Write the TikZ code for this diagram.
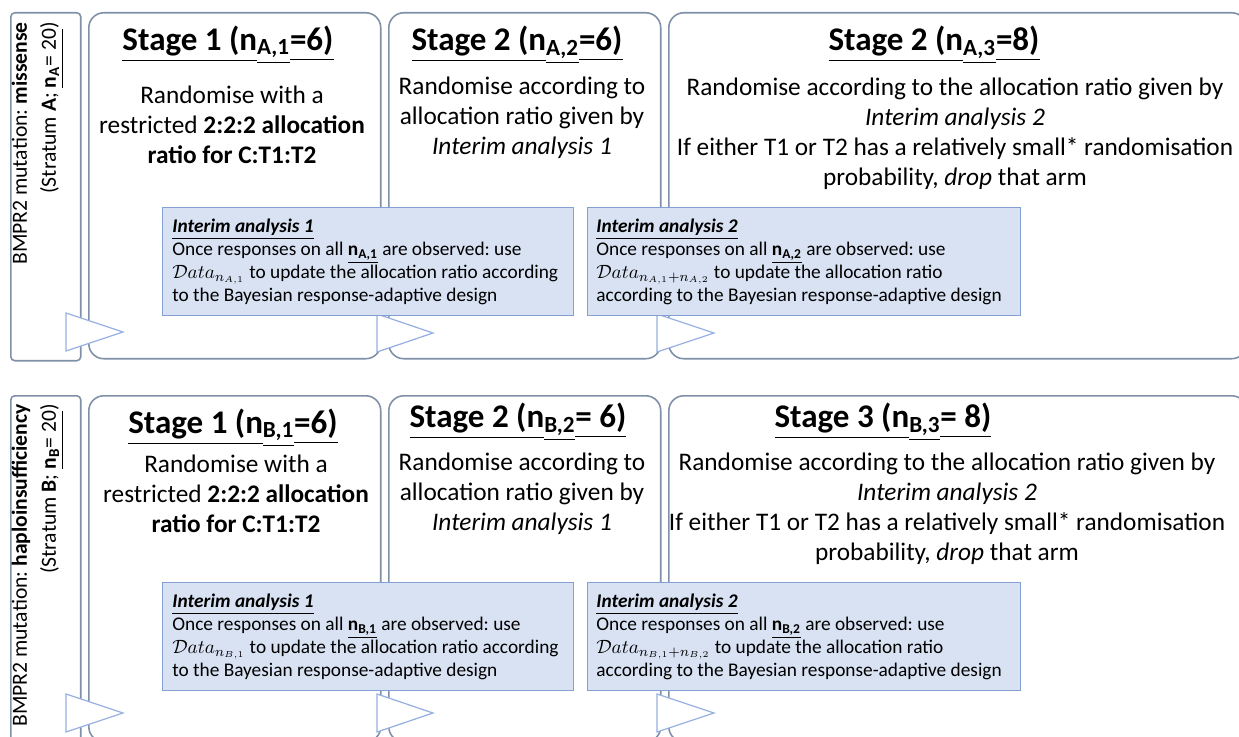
\documentclass[tikz,border=0pt]{standalone}
\usepackage{fontspec}
\setmainfont{Carlito}
\usepackage{amsmath}
\usepackage{tikz}
\frenchspacing

\definecolor{boxline}{RGB}{128,144,168}
\definecolor{iafill}{RGB}{216,226,243}
\definecolor{ialine}{RGB}{132,160,210}
\definecolor{triline}{RGB}{150,175,225}

\tikzset{
	stagebox/.style={draw=boxline, line width=0.9pt, rounded corners=0.3cm, anchor=north west, inner sep=0pt, minimum height=6.92cm},
	stratbox/.style={draw=boxline, line width=0.9pt, rounded corners=0.08cm, anchor=north west, inner sep=0pt, minimum width=1.4cm, minimum height=6.96cm},
	iabox/.style={draw=ialine, fill=iafill, line width=0.8pt, anchor=north west, inner sep=0pt, minimum height=2.16cm},
	iatext/.style={anchor=west, align=left, inner sep=0pt, font=\fontsize{11}{13}\selectfont},
	head/.style={inner sep=0pt, font=\fontsize{18.8}{22}\selectfont\bfseries},
	body/.style={align=center, inner sep=0pt, font=\fontsize{14.4}{17}\selectfont},
	strattext/.style={rotate=90, align=right, anchor=east, inner sep=0pt, font=\fontsize{12.3}{16.5}\selectfont},
	arrowtri/.style={draw=triline, fill=white, line width=0.7pt, line join=miter}
}

\begin{document}
\begin{tikzpicture}[x=0.02cm, y=-0.02cm]
	\useasboundingbox (0,0) rectangle (1239,736);
	\clip (0,0) rectangle (1239,736);

	\node[stratbox] (stA) at (10,12) {};
	\node[stagebox, minimum width=5.84cm] (s1A) at (88,12) {};
	\node[stagebox, minimum width=5.44cm] (s2A) at (388,12) {};
	\node[stagebox, minimum width=11.56cm] (s3A) at (668,12) {};

	\node[stratbox] (stB) at (10,395) {};
	\node[stagebox, minimum width=5.84cm] (s1B) at (88,395) {};
	\node[stagebox, minimum width=5.44cm] (s2B) at (388,395) {};
	\node[stagebox, minimum width=11.56cm] (s3B) at (668,395) {};

	\node[strattext] (lA) at (37.5,22) {BMPR2 mutation: \textbf{missense}\\(Stratum \textbf{A}; \underline{\textbf{n\textsubscript{A}}= 20})};
	\node[strattext] (lB) at (37.5,404) {BMPR2 mutation: \textbf{haploinsufficiency}\\(Stratum \textbf{B}; \underline{\textbf{n\textsubscript{B}}= 20})};

	\node[head] (h1A) at (228,45) {\underline{Stage 1 (n}\underline{\textsubscript{A,1}}\underline{=6)}};
	\node[head] (h2A) at (517,45) {\underline{Stage 2 (n}\underline{\textsubscript{A,2}}\underline{=6)}};
	\node[head] (h3A) at (934,45) {\underline{Stage 2 (n}\underline{\textsubscript{A,3}}\underline{=8)}};
	\node[head] (h1B) at (233,428) {\underline{Stage 1 (n}\underline{\textsubscript{B,1}}\underline{=6)}};
	\node[head] (h2B) at (518,422) {\underline{Stage 2 (n}\underline{\textsubscript{B,2}}\underline{= 6)}};
	\node[head] (h3B) at (883,422) {\underline{Stage 3 (n}\underline{\textsubscript{B,3}}\underline{= 8)}};

	\node[body] (b1A) at (232,125) {Randomise with a\\restricted \textbf{2:2:2 allocation}\\\textbf{ratio for C:T1:T2}};
	\node[body] (b2A) at (522,118) {Randomise according to\\allocation ratio given by\\\textit{Interim analysis 1}};
	\node[body] (b3A) at (955,134) {Randomise according to the allocation ratio given by\\\textit{Interim analysis 2}\\If either T1 or T2 has a relatively small* randomisation\\probability, \textit{drop} that arm};
	\node[body] (b1B) at (236,494) {Randomise with a\\restricted \textbf{2:2:2 allocation}\\\textbf{ratio for C:T1:T2}};
	\node[body] (b2B) at (522,494) {Randomise according to\\allocation ratio given by\\\textit{Interim analysis 1}};
	\node[body] (b3B) at (947,509) {Randomise according to the allocation ratio given by\\\textit{Interim analysis 2}\\If either T1 or T2 has a relatively small* randomisation\\probability, \textit{drop} that arm};

	\draw[arrowtri] (66,313) -- (123,332) -- (66,351) -- cycle;
	\draw[arrowtri] (377,314) -- (433,333) -- (377,352) -- cycle;
	\draw[arrowtri] (657,314) -- (714,333) -- (657,352) -- cycle;
	\draw[arrowtri] (66,694) -- (123,713) -- (66,732) -- cycle;
	\draw[arrowtri] (377,694) -- (433,713) -- (377,732) -- cycle;
	\draw[arrowtri] (657,694) -- (714,713) -- (657,732) -- cycle;

	\node[iabox, minimum width=8.22cm] (ia1A) at (162,207) {};
	\node[iabox, minimum width=8.66cm] (ia2A) at (587,207) {};
	\node[iabox, minimum width=8.22cm] (ia1B) at (162,582) {};
	\node[iabox, minimum width=8.66cm] (ia2B) at (587,582) {};

	\node[iatext] (t1A) at ([xshift=0.2cm]ia1A.west) {\underline{\textbf{\textit{Interim analysis 1}}}\\Once responses on all \underline{\textbf{n\textsubscript{A,1}}} are observed: use\\$\mathcal{D}ata_{n_{A,1}}$ to update the allocation ratio according\\to the Bayesian response-adaptive design};
	\node[iatext] (t2A) at ([xshift=0.18cm]ia2A.west) {\underline{\textbf{\textit{Interim analysis 2}}}\\Once responses on all \underline{\textbf{n\textsubscript{A,2}}} are observed: use\\$\mathcal{D}ata_{n_{A,1}+n_{A,2}}$ to update the allocation ratio\\according to the Bayesian response-adaptive design};
	\node[iatext] (t1B) at ([xshift=0.2cm]ia1B.west) {\underline{\textbf{\textit{Interim analysis 1}}}\\Once responses on all \underline{\textbf{n\textsubscript{B,1}}} are observed: use\\$\mathcal{D}ata_{n_{B,1}}$ to update the allocation ratio according\\to the Bayesian response-adaptive design};
	\node[iatext] (t2B) at ([xshift=0.18cm]ia2B.west) {\underline{\textbf{\textit{Interim analysis 2}}}\\Once responses on all \underline{\textbf{n\textsubscript{B,2}}} are observed: use\\$\mathcal{D}ata_{n_{B,1}+n_{B,2}}$ to update the allocation ratio\\according to the Bayesian response-adaptive design};
\end{tikzpicture}
\end{document}
